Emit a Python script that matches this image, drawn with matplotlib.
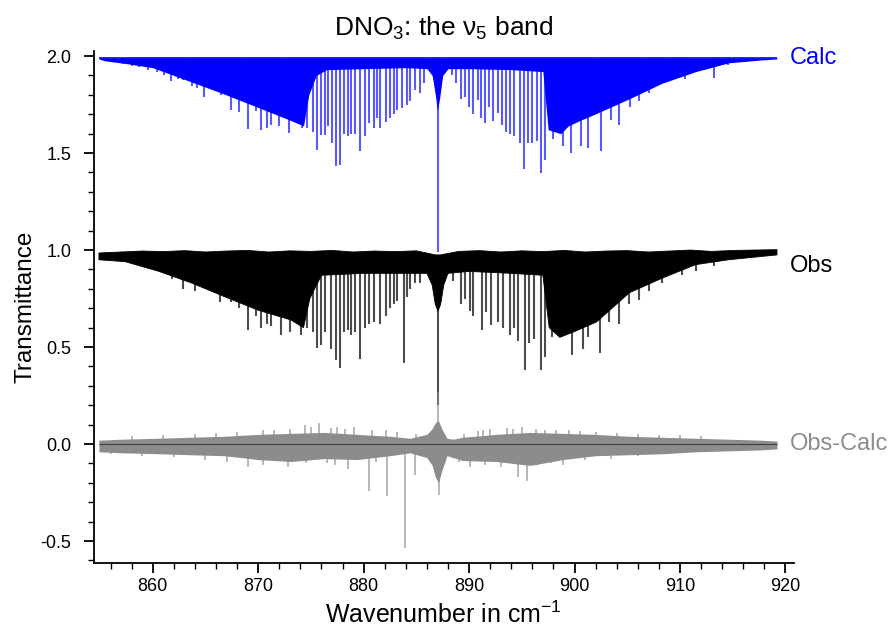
import numpy as np
import matplotlib.pyplot as plt
from matplotlib.ticker import MultipleLocator

plt.rcParams['font.family'] = ['Liberation Sans', 'DejaVu Sans']
plt.rcParams['mathtext.fontset'] = 'custom'
plt.rcParams['mathtext.rm'] = 'Liberation Sans'
plt.rcParams['axes.unicode_minus'] = False

# ---- data ----
wn_start, wn_end = 854.9, 919.2

# Calc (offset +1)
calc_base = 1.99
calc_env_x = [854.9, 855.5, 857.4, 860.0, 863.0, 866.5, 870.0, 873.0, 874.3, 874.8, 875.5, 876.5,
              880.0, 884.0, 886.0, 886.5, 886.8, 887.0, 887.2, 887.5, 888.0, 890.0, 894.0, 897.0,
              897.5, 898.7, 899.4, 900.6, 901.9, 905.2, 908.3, 911.5, 914.6, 917.7, 919.2]
calc_env_y = [1.985, 1.975, 1.962, 1.94, 1.88, 1.81, 1.735, 1.67, 1.64, 1.80, 1.90, 1.93,
              1.935, 1.94, 1.935, 1.90, 1.80, 1.72, 1.78, 1.90, 1.935, 1.935, 1.93, 1.92,
              1.62, 1.60, 1.64, 1.67, 1.70, 1.78, 1.86, 1.92, 1.965, 1.98, 1.985]
calc_line_x = [855.8, 856.4, 857.2, 858.0, 858.7, 859.6, 860.4, 861.1, 861.7, 862.4, 862.9, 863.7,
               864.2, 864.9, 865.6, 866.5, 867.4, 868.2, 869.0, 869.8, 870.3, 870.8, 871.2, 872.0,
               872.9, 873.7, 874.2, 874.6, 875.2, 875.6, 876.0, 876.3, 876.6, 877.0, 877.4, 877.8,
               878.1, 878.5, 878.8, 879.2, 879.7, 880.1, 880.5, 881.0, 881.3, 881.6, 882.1, 882.5,
               882.9, 883.2, 883.6, 884.1, 884.4, 884.9, 885.3, 885.7,
               887.05,
               888.4, 888.8, 889.2, 889.6, 890.0, 890.4, 890.8, 891.1, 891.5, 891.9, 892.3, 892.7,
               893.1, 893.5, 893.9, 894.3, 894.8, 895.2, 895.6, 896.0, 896.4, 896.8, 897.2, 898.0,
               898.9, 899.7, 900.6, 901.3, 902.5, 903.5, 904.2, 905.3, 906.1, 907.1, 908.0, 909.6,
               910.5, 911.5, 913.2, 914.6, 916.0]
calc_line_y = [1.976, 1.97, 1.96, 1.95, 1.945, 1.93, 1.92, 1.90, 1.87, 1.88, 1.878, 1.844,
               1.835, 1.787, 1.83, 1.80, 1.723, 1.71, 1.624, 1.715, 1.617, 1.63, 1.646, 1.637,
               1.603, 1.672, 1.63, 1.63, 1.61, 1.517, 1.594, 1.594, 1.64, 1.55, 1.431, 1.44,
               1.60, 1.586, 1.60, 1.60, 1.51, 1.586, 1.655, 1.63, 1.68, 1.63, 1.66, 1.68,
               1.70, 1.72, 1.73, 1.75, 1.766, 1.826, 1.81, 1.86,
               0.99,
               1.90, 1.86, 1.78, 1.79, 1.74, 1.70, 1.775, 1.68, 1.655, 1.74, 1.663, 1.706,
               1.646, 1.61, 1.60, 1.586, 1.55, 1.42, 1.55, 1.55, 1.56, 1.397, 1.466, 1.57,
               1.535, 1.50, 1.535, 1.526, 1.51, 1.67, 1.646, 1.74, 1.766, 1.81, 1.85, 1.887,
               1.88, 1.92, 1.887, 1.955, 1.97]

# Obs
obs_top_x = [854.9, 857, 859, 861, 863, 865, 867, 869, 871, 873, 875, 877, 879, 881, 883, 885,
             886.8, 887.3, 889, 891, 893, 895, 897, 899, 901, 903, 905, 907, 909, 911, 913, 915,
             917, 919.2]
obs_top_y = [0.985, 0.99, 0.995, 0.992, 0.997, 0.99, 0.995, 0.998, 0.99, 0.996, 0.993, 0.998,
             0.99, 0.995, 0.992, 0.996, 0.975, 0.975, 0.993, 0.997, 0.99, 0.996, 0.992, 0.998,
             0.99, 0.995, 0.997, 0.99, 0.995, 1.0, 0.993, 0.998, 1.0, 1.002]
obs_env_x = [854.9, 857.4, 860.6, 863.7, 866.8, 870.0, 873.1, 874.3, 874.9, 876.0, 880.0, 884.0,
             886.0, 886.5, 886.8, 887.05, 887.3, 887.6, 888.0, 890.0, 894.0, 897.0, 897.6, 898.6,
             900.0, 902.1, 905.2, 908.3, 911.5, 914.6, 919.2]
obs_env_y = [0.95, 0.94, 0.89, 0.83, 0.76, 0.69, 0.64, 0.60, 0.75, 0.87, 0.88, 0.88,
             0.88, 0.82, 0.72, 0.685, 0.72, 0.82, 0.88, 0.89, 0.88, 0.87, 0.60, 0.55,
             0.58, 0.63, 0.78, 0.855, 0.925, 0.95, 0.975]
obs_line_x = [861.8, 862.9, 864.0, 865.1, 866.4, 867.4, 868.2, 869.0, 869.8, 870.3, 870.8, 871.2,
              872.2, 873.0, 874.1, 874.6, 875.2, 875.6, 876.0, 876.3, 876.9, 877.4, 877.8, 878.1,
              878.5, 878.8, 879.2, 879.7, 880.1, 880.5, 881.0, 881.6, 882.1, 882.5, 882.9, 883.2,
              883.8, 884.1, 884.4, 884.9, 885.3,
              887.1,
              888.5, 889.2, 889.6, 890.1, 890.4, 891.2, 891.6, 892.1, 892.7, 893.2, 893.9, 894.3,
              894.6, 895.3, 895.7, 896.2, 896.8, 897.2, 897.9, 898.6, 899.8, 900.8, 901.3, 902.4,
              903.3, 904.2, 905.2, 906.1, 907.1, 908.3, 910.2, 911.5, 913.2]
obs_line_y = [0.85, 0.80, 0.79, 0.80, 0.73, 0.73, 0.70, 0.59, 0.66, 0.60, 0.62, 0.61,
              0.56, 0.58, 0.56, 0.60, 0.58, 0.495, 0.51, 0.58, 0.49, 0.435, 0.39, 0.58,
              0.59, 0.56, 0.58, 0.44, 0.60, 0.62, 0.63, 0.62, 0.66, 0.70, 0.72, 0.74,
              0.42, 0.76, 0.80, 0.83, 0.83,
              0.20,
              0.84, 0.72, 0.75, 0.685, 0.66, 0.59, 0.68, 0.615, 0.63, 0.60, 0.563, 0.60,
              0.53, 0.383, 0.52, 0.54, 0.383, 0.45, 0.55, 0.55, 0.46, 0.49, 0.55, 0.47,
              0.63, 0.62, 0.72, 0.745, 0.79, 0.83, 0.87, 0.89, 0.92]

# Obs-Calc
res_x = [854.9, 857.0, 860.6, 863.5, 866.8, 870.0, 873.1, 876.2, 879.4, 882.5, 884.4, 886.0,
         886.5, 886.8, 887.1, 887.4, 887.9, 888.5, 889.4, 892.6, 895.8, 898.9, 902.0,
         905.2, 908.3, 911.5, 914.6, 917.7, 919.2]
res_up = [0.02, 0.025, 0.03, 0.035, 0.04, 0.05, 0.055, 0.06, 0.05, 0.04, 0.03, 0.05,
          0.08, 0.11, 0.12, 0.08, 0.03, 0.025, 0.035, 0.05, 0.06, 0.055, 0.05,
          0.04, 0.035, 0.03, 0.025, 0.02, 0.015]
res_lo = [-0.04, -0.045, -0.05, -0.055, -0.06, -0.08, -0.09, -0.075, -0.08, -0.06, -0.045, -0.07,
          -0.11, -0.17, -0.2, -0.14, -0.06, -0.07, -0.085, -0.09, -0.11, -0.08, -0.06,
          -0.055, -0.05, -0.04, -0.035, -0.03, -0.025]
res_spike_x = [858.0, 861.0, 864.0, 866.0, 868.0, 870.5, 871.5, 873.0, 874.4, 875.0, 875.8, 876.9,
               877.5, 878.2, 879.1, 880.8, 882.1, 883.2, 885.0, 887.05, 889.5, 890.8, 891.3, 892.0,
               893.6, 894.2, 895.0, 896.3, 897.2, 898.2, 899.5, 900.5, 902.0, 904.0, 906.0, 908.0,
               910.0, 912.0,
               856.0, 859.0, 862.0, 865.0, 867.0, 869.0, 870.5, 872.8, 874.5, 876.5, 877.3, 878.5,
               880.5, 881.2, 882.2, 883.9, 884.9, 887.15, 889.0, 890.1, 891.5, 893.0, 894.6, 895.5,
               896.5, 897.8, 898.9, 901.0, 903.5, 906.0]
res_spike_y = [0.04, 0.045, 0.05, 0.055, 0.06, 0.07, 0.075, 0.08, 0.098, 0.09, 0.107, 0.085,
               0.09, 0.08, 0.09, 0.075, 0.072, 0.06, 0.05, 0.27, 0.05, 0.065, 0.07, 0.08,
               0.085, 0.08, 0.09, 0.08, 0.075, 0.07, 0.07, 0.065, 0.06, 0.055, 0.05, 0.045,
               0.045, 0.04,
               -0.05, -0.06, -0.065, -0.08, -0.09, -0.12, -0.11, -0.12, -0.1, -0.1, -0.11, -0.13,
               -0.24, -0.09, -0.27, -0.535, -0.16, -0.26, -0.09, -0.12, -0.11, -0.12, -0.17, -0.19,
               -0.11, -0.1, -0.11, -0.08, -0.075, -0.06]

blue = '#0000ff'
grey = '#8c8c8c'

fig = plt.figure(figsize=(8.92, 6.33), dpi=100)
ax = fig.add_axes([0.105, 0.1106, 0.785, 0.8085])

# Calc
ax.fill_between(calc_env_x, calc_env_y, calc_base, color=blue, lw=0)
ax.vlines(calc_line_x, calc_line_y, calc_base, color=blue, lw=1.5, alpha=0.65)
ax.hlines(calc_base, wn_start, wn_end, color=blue, lw=1.2)

# Obs
ax.fill(np.r_[obs_top_x, obs_env_x[::-1]], np.r_[obs_top_y, obs_env_y[::-1]], color='black', lw=0.6)
ax.vlines(obs_line_x, obs_line_y, 0.97, color='black', lw=1.5, alpha=0.7)

# Obs-Calc
ax.fill_between(res_x, res_lo, res_up, color=grey, lw=0)
ax.vlines(res_spike_x, 0, res_spike_y, color=grey, lw=1.1, alpha=0.8)
ax.hlines(0, wn_start, wn_end, color='#404040', lw=0.8)

ax.text(920.4, calc_base, 'Calc', color=blue, fontsize=17, va='center', ha='left', clip_on=False)
ax.text(920.4, 0.92, 'Obs', color='black', fontsize=17, va='center', ha='left', clip_on=False)
ax.text(920.4, 0.0, 'Obs-Calc', color=grey, fontsize=17, va='center', ha='left', clip_on=False)

ax.set_xlim(854.4, 920.8)
ax.set_ylim(-0.613, 2.025)
ax.xaxis.set_major_locator(MultipleLocator(10))
ax.xaxis.set_minor_locator(MultipleLocator(2))
ax.yaxis.set_major_locator(MultipleLocator(0.5))
ax.yaxis.set_minor_locator(MultipleLocator(0.1))
ax.yaxis.set_major_formatter(plt.FormatStrFormatter('%.1f'))
ax.tick_params(which='major', direction='out', length=7, width=1.3, labelsize=13)
ax.tick_params(axis='y', which='major', pad=9)
ax.tick_params(which='minor', direction='out', length=4, width=1.0)
for s in ['top', 'right']:
    ax.spines[s].set_visible(False)
for s in ['left', 'bottom']:
    ax.spines[s].set_linewidth(1.3)

ax.set_xlabel('Wavenumber in cm$^{\\mathregular{-1}}$', fontsize=18, labelpad=5)
ax.set_ylabel('Transmittance', fontsize=17.5, labelpad=3)
fig.text(0.497, 0.956, 'DNO$_{\\mathregular{3}}$: the ν$_{\\mathregular{5}}$ band',
         fontsize=19, ha='center', va='center')

fig.savefig('out.png', dpi=100)
